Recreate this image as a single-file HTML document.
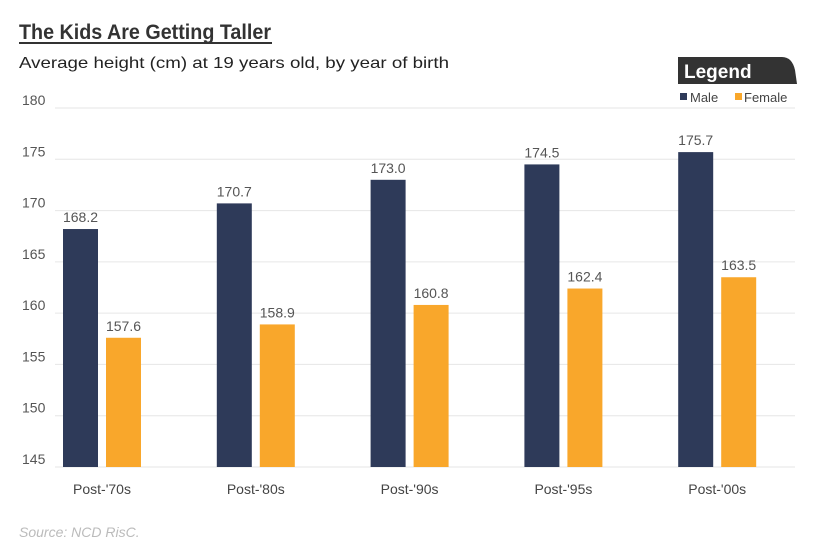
<!DOCTYPE html>
<html><head><meta charset="utf-8"><style>
body{margin:0;background:#fff;width:830px;height:554px;overflow:hidden;font-family:"Liberation Sans",sans-serif}
</style></head><body>
<svg width="830" height="554" id="c" font-family="Liberation Sans, sans-serif">
<text x="19" y="39" font-size="21" font-weight="bold" fill="#333" textLength="252" lengthAdjust="spacingAndGlyphs">The Kids Are Getting Taller</text>
<rect x="19" y="42" width="253" height="2" fill="#333"/>
<text x="19" y="68" font-size="16" fill="#222" textLength="430" lengthAdjust="spacingAndGlyphs">Average height (cm) at 19 years old, by year of birth</text>
<path d="M678 57 H782 Q792 57 795 70 L797 84 H678 Z" fill="#333"/>
<text x="684" y="78" font-size="19" font-weight="bold" fill="#fff">Legend</text>
<rect x="680" y="93" width="7" height="7" fill="#2e3a59"/>
<text x="690" y="102" font-size="13" fill="#444">Male</text>
<rect x="735" y="93" width="7" height="7" fill="#f9a72b"/>
<text x="744" y="102" font-size="13" fill="#444">Female</text>
<g id="g"></g>
<text x="19" y="537" font-size="14" font-style="italic" fill="#bbb">Source:  NCD RisC.</text>
</svg>
<script>
const categories=["Post-'70s","Post-'80s","Post-'90s","Post-'95s","Post-'00s"];
const male=[168.2,170.7,173.0,174.5,175.7];
const female=[157.6,158.9,160.8,162.4,163.5];
const ticks=[145,150,155,160,165,170,175,180];
const NS="http://www.w3.org/2000/svg",g=document.getElementById('g');
const y=v=>467-(v-145)*(359/35);
const x0=i=>63+i*153.8;
function mk(t,a){const e=document.createElementNS(NS,t);for(const k in a)e.setAttribute(k,a[k]);g.appendChild(e);return e;}
ticks.forEach(t=>{
 const l=mk('line',{x1:55,x2:795,y1:y(t),y2:y(t),stroke:'#e6e6e6','stroke-width':1});
 
 
 const tx=mk('text',{x:22,y:y(t)-3,'font-size':14,fill:'#555'});tx.textContent=t;
 
 
});
categories.forEach((c,i)=>{
 const x=x0(i);
 [[male[i],x,'#2e3a59','male'],[female[i],x+43,'#f9a72b','female']].forEach(([v,bx,col,n])=>{
  const r=mk('rect',{x:bx,y:y(v),width:35,height:467-y(v),fill:col});
  
  
  const t=mk('text',{x:bx+17.5,y:y(v)-7,'font-size':14,fill:'#555','text-anchor':'middle'});t.textContent=v.toFixed(1);
  
  
 });
 const l=mk('text',{x:x+39,y:494,'font-size':14,fill:'#444','text-anchor':'middle'});l.textContent=c;
 
 
});
</script>
</body></html>
